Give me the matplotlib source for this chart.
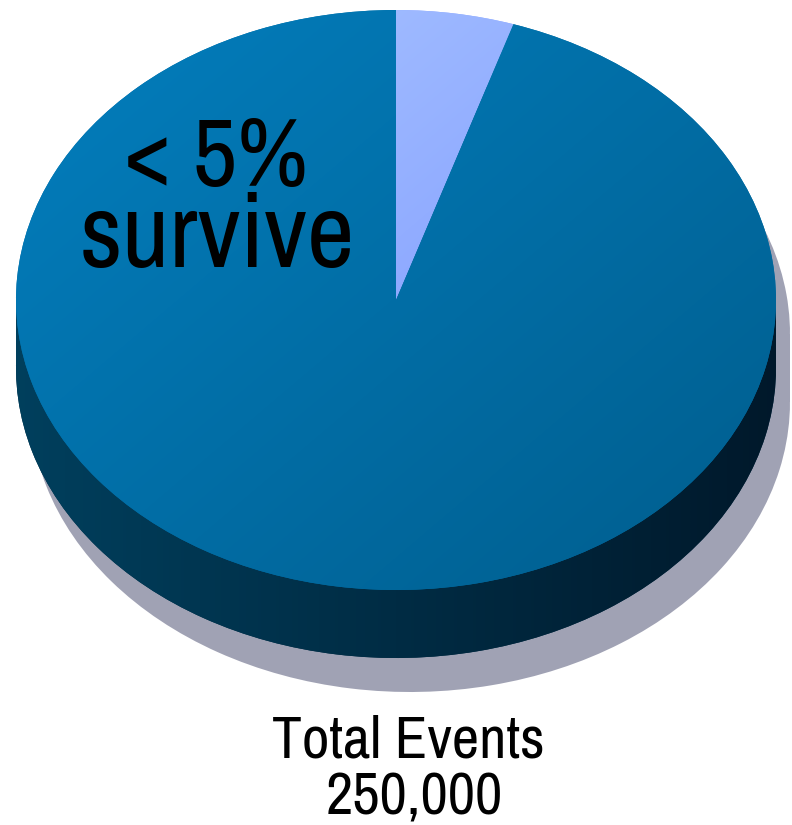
import numpy as np
import matplotlib.pyplot as plt
from matplotlib.colors import LinearSegmentedColormap
from matplotlib.patches import Rectangle

# Data
labels = ["survive", "rejected"]
shares = [5, 95]          # percent of events
total_events = 250000

# Layout (pixels)
W, H = 792, 825
cx, cy = 396, 300         # centre of the pie top
rx, ry = 380, 290         # half-axes of the pie top
depth = 68                # thickness of the pie
sh_dx, sh_dy = 14, 34     # shadow offset

FONT = ["Archivo Narrow", "Liberation Sans", "DejaVu Sans"]


def to_data(px, py):
    return (px - cx) / rx, (cy - py) / ry


fig = plt.figure(figsize=(W / 100, H / 100), dpi=100)
ax = fig.add_axes([0, 0, 1, 1])

d = depth / ry
sx, sy = sh_dx / rx, -sh_dy / ry
ext = [-1.05, 1.05, -1.05 - d, 1.05]


def gradient(c0, c1, clip, z, direction="diag"):
    cmap = LinearSegmentedColormap.from_list("g", [c0, c1])
    xx, yy = np.meshgrid(np.linspace(0, 1, 64), np.linspace(0, 1, 64))
    if direction == "diag":
        img = (xx + yy) / 2
    else:
        img = xx
    im = ax.imshow(img, cmap=cmap, extent=ext, origin="upper",
                   aspect="auto", interpolation="bicubic", zorder=z)
    im.set_clip_path(clip)


# shadow
shadow = "#a0a2b4"
for yoff in (sy - d, sy):
    wedges, _ = ax.pie(shares, startangle=90, counterclock=False,
                       center=(sx, yoff), radius=1,
                       colors=[shadow, shadow])
    for w in wedges:
        w.set_zorder(1)
ax.add_patch(Rectangle((sx - 1, sy - d), 2, d, color=shadow, zorder=1,
                       lw=0))

# side of the pie
side_wedges, _ = ax.pie(shares, startangle=90, counterclock=False,
                        center=(0, -d), radius=1,
                        colors=["#002a42", "#002a42"])
side_rect = Rectangle((-1, -d), 2, d, color="#002a42", zorder=2, lw=0)
ax.add_patch(side_rect)
for w in side_wedges:
    w.set_zorder(2)
    gradient("#00405e", "#00182a", w, 2.1, "horiz")
gradient("#00405e", "#00182a", side_rect, 2.1, "horiz")

# top of the pie
top_wedges, _ = ax.pie(shares, startangle=90, counterclock=False,
                       center=(0, 0), radius=1,
                       colors=["#90aaff", "#0070a8"])
for w in top_wedges:
    w.set_zorder(3)
gradient("#b0ccff", "#6a84ff", top_wedges[0], 3.1)
gradient("#037fbf", "#005b8a", top_wedges[1], 3.1)

ax.set_aspect("auto")
ax.set_xlim(-cx / rx, (W - cx) / rx)
ax.set_ylim((cy - H) / ry, cy / ry)
ax.axis("off")

# labels
x, y = to_data(216, 186)
ax.text(x, y, f"< {shares[0]}%", fontsize=70, family=FONT,
        ha="center", va="baseline", zorder=5)
x, y = to_data(217, 267)
ax.text(x, y, labels[0], fontsize=75, family=FONT,
        ha="center", va="baseline", zorder=5)

x, y = to_data(408, 757)
ax.text(x, y, "Total Events", fontsize=43, family=FONT,
        ha="center", va="baseline", zorder=5)
x, y = to_data(414, 815)
ax.text(x, y, f"{total_events:,}", fontsize=43, family=FONT,
        ha="center", va="baseline", zorder=5)

fig.savefig("out.png", dpi=100)
